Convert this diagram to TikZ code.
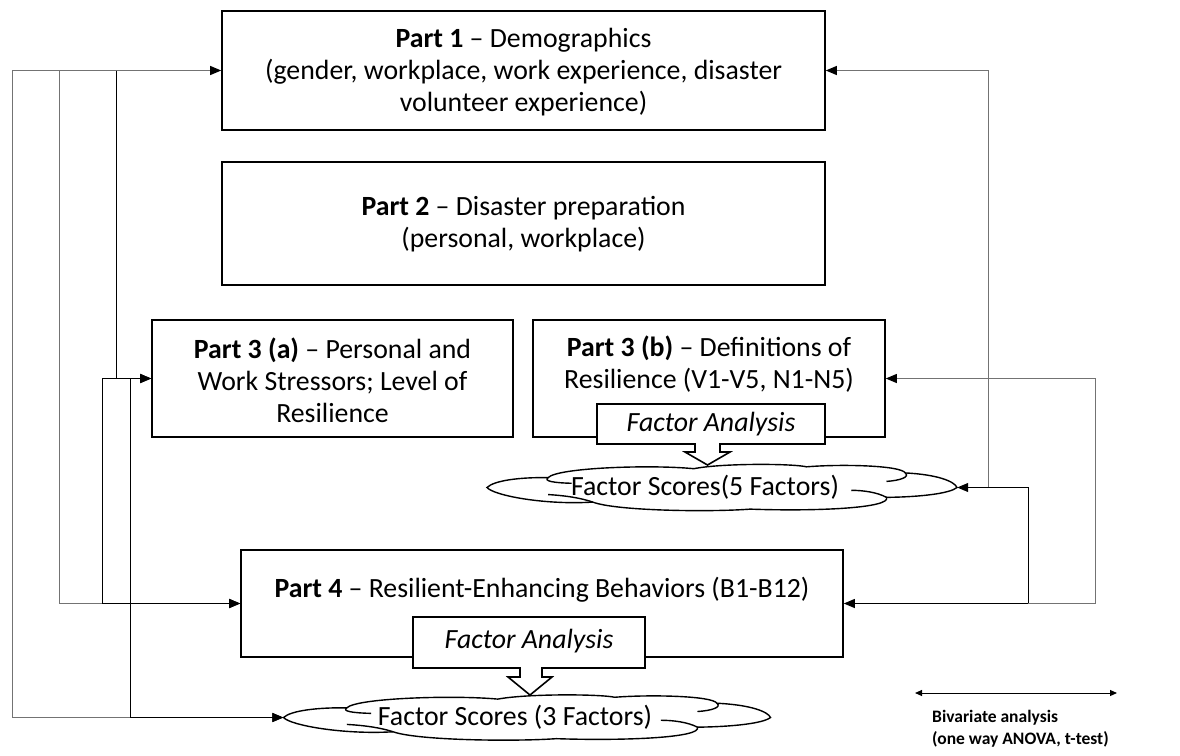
\documentclass[tikz,border=0pt]{standalone}
\usepackage{fontspec}
\setmainfont{Carlito}
\usetikzlibrary{arrows.meta}
\tikzset{
  box/.style={draw, line width=1.6pt, fill=white, inner sep=0pt},
  txt/.style={align=center, inner sep=0pt, font=\fontsize{27.8}{32}\selectfont},
  conn/.style={line width=1pt, draw=black},
  gconn/.style={line width=1pt, draw=black!55},
  arrowend/.style={-{Triangle[length=11pt,width=9pt,color=black]}},
  arrowstart/.style={{Triangle[length=11pt,width=9pt,color=black]}-},
  arrowboth/.style={{Triangle[length=11pt,width=9pt,color=black]}-{Triangle[length=11pt,width=9pt,color=black]}},
  calloutline/.style={draw, line width=1.6pt, fill=white, line join=miter},
  cloudline/.style={draw, line width=1.4pt, fill=white},
  cloudinner/.style={draw, line width=1.4pt},
}
\newcommand\mycloudshape{%
  \path[cloudline] (-1,0)
   .. controls (-0.97,0.30) and (-0.86,0.44) .. (-0.74,0.42)
   .. controls (-0.70,0.85) and (-0.30,0.98) .. (-0.12,0.80)
   .. controls (0.00,1.04) and (0.30,1.02) .. (0.36,0.88)
   .. controls (0.50,1.00) and (0.76,0.95) .. (0.78,0.62)
   .. controls (0.92,0.55) and (0.99,0.25) .. (1,0)
   .. controls (0.97,-0.25) and (0.85,-0.40) .. (0.70,-0.42)
   .. controls (0.72,-0.88) and (0.40,-1.02) .. (0.12,-0.92)
   .. controls (-0.05,-1.05) and (-0.45,-1.00) .. (-0.55,-0.62)
   .. controls (-0.75,-0.75) and (-0.97,-0.35) .. (-1,0) -- cycle;
  \path[cloudinner] (-0.74,0.42) .. controls (-0.76,0.28) and (-0.72,0.20) .. (-0.64,0.18);
  \path[cloudinner] (-0.55,-0.62) .. controls (-0.60,-0.45) and (-0.66,-0.35) .. (-0.74,-0.30);
  \path[cloudinner] (0.70,-0.42) .. controls (0.66,-0.20) and (0.60,-0.12) .. (0.55,-0.12);
  \path[cloudinner] (0.78,0.62) .. controls (0.80,0.45) and (0.76,0.30) .. (0.70,0.26);
}
\begin{document}
\begin{tikzpicture}[x=1pt,y=-1pt]
\useasboundingbox (0,0) rectangle (1180,755);

% main boxes
\node[box, minimum width=603, minimum height=119] (p1) at (523.5,70.5) {};
\node[txt] (p1t) at (523.5,72) {\textbf{Part 1} \textendash{} Demographics\\(gender, workplace, work experience, disaster\\volunteer experience)};

\node[box, minimum width=603, minimum height=123] (p2) at (523.5,223.5) {};
\node[txt] (p2t) at (523.5,224) {\textbf{Part 2} \textendash{} Disaster preparation\\(personal, workplace)};

\node[box, minimum width=361, minimum height=117] (p3a) at (332.5,378.5) {};
\node[txt] (p3at) at (332.5,380) {\textbf{Part 3 (a)} \textendash{} Personal and\\Work Stressors; Level of\\Resilience};

\node[box, minimum width=352, minimum height=117] (p3b) at (709,378.5) {};
\node[txt] (p3bt) at (709,364) {\textbf{Part 3 (b)} \textendash{} Definitions of\\Resilience (V1-V5, N1-N5)};

\node[box, minimum width=602, minimum height=107] (p4) at (542,603.5) {};
\node[txt] (p4t) at (542,590) {\textbf{Part 4} \textendash{} Resilient-Enhancing Behaviors (B1-B12)};

% callouts
\path[calloutline] (597,404) -- (825,404) -- (825,444) -- (720,444) -- (720,452) -- (730,452)
  -- (707.5,465) -- (685,452) -- (695,452) -- (695,444) -- (597,444) -- cycle;
\node[txt] (fa1) at (711,424) {\textit{Factor Analysis}};

\path[calloutline] (413,617) -- (645,617) -- (645,668) -- (542,668) -- (542,677) -- (552,677)
  -- (530,695) -- (508,677) -- (520,677) -- (520,668) -- (413,668) -- cycle;
\node[txt] (fa2) at (529,641) {\textit{Factor Analysis}};

% clouds
\node[minimum width=470, minimum height=47, inner sep=0pt] (c1) at (722,487.5) {};
\begin{scope}[shift={(c1.center)}, xscale=235, yscale=-23.5]
  \mycloudshape
\end{scope}
\node[txt] (c1t) at (705,487.5) {Factor Scores(5 Factors)};

\node[minimum width=487, minimum height=46, inner sep=0pt] (c2) at (527,717.5) {};
\begin{scope}[shift={(c2.center)}, xscale=243.5, yscale=-23]
  \mycloudshape
\end{scope}
\node[txt] (c2t) at (515,717.5) {Factor Scores (3 Factors)};

% vertical line positions
\coordinate (xa) at (12,0);
\coordinate (xb) at (59,0);
\coordinate (xd) at (102,0);
\coordinate (xc) at (116,0);
\coordinate (xe) at (130,0);
\coordinate (xf) at (988,0);
\coordinate (xg) at (1028,0);
\coordinate (xh) at (1095,0);

% left connectors
\draw[gconn, arrowboth] (p1.west) -- (p1.west -| xa) |- (c2.west);
\draw[gconn, arrowend] (p1.west -| xb) |- (p4.west);
\draw[conn, arrowend] (p1.west -| xc) |- (p3a.west);
\draw[conn, arrowboth] (p3a.west) -- (p3a.west -| xd) |- (p4.west);
\draw[conn, arrowend] (p3a.west -| xe) |- (c2.west);

% right connectors
\draw[gconn, arrowstart] (p1.east) -- (p1.east -| xf) -- (c1.east -| xf);
\draw[conn, arrowboth] (c1.east) -- (c1.east -| xg) |- (p4.east);
\draw[gconn, arrowstart] (p3b.east) -- (p3b.east -| xh) |- (p4.east -| xg);

% legend
\coordinate (la) at (915,693);
\coordinate (lb) at (1117,693);
\draw[conn, {Triangle[length=7pt,width=6pt]}-{Triangle[length=7pt,width=6pt]}] (la) -- (lb);
\node[anchor=west, align=left, inner sep=0pt, font=\bfseries\fontsize{17.5}{22}\selectfont] (leg) at (932,729) {Bivariate analysis\\(one way ANOVA, t-test)};
\end{tikzpicture}
\end{document}
